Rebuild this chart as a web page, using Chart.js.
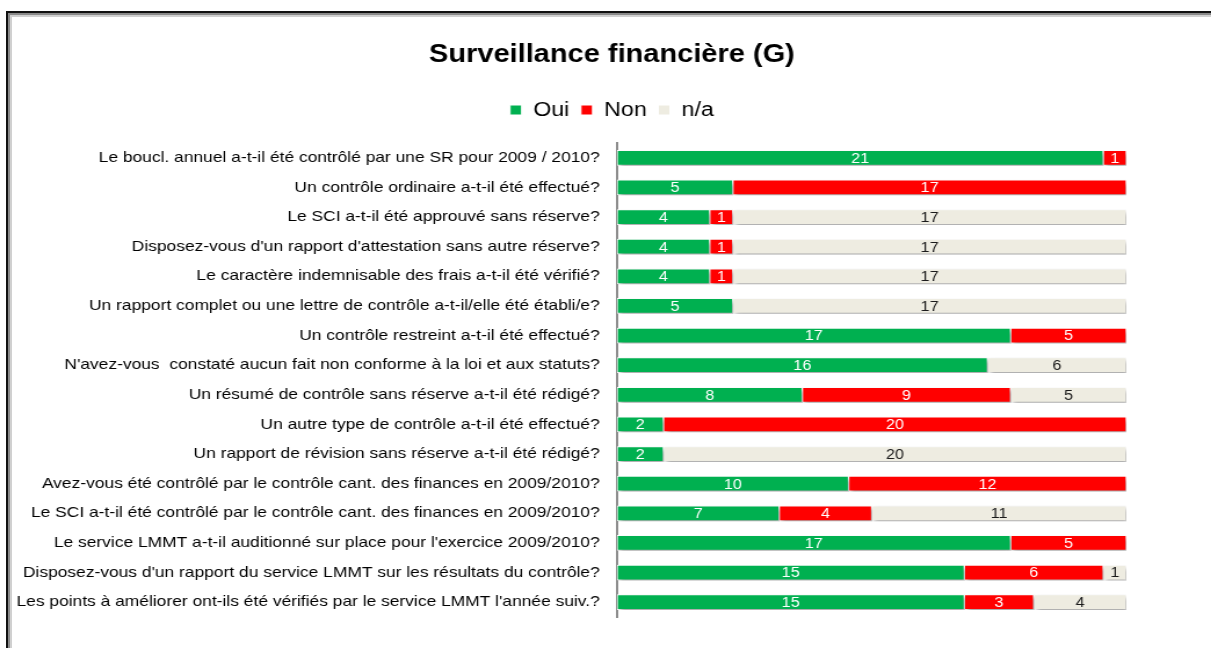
<!DOCTYPE html>
<html>
<head>
<meta charset="utf-8">
<script src="https://cdn.jsdelivr.net/npm/chart.js@4/dist/chart.umd.min.js"></script>
<style>
	html, body { margin: 0; padding: 0; background: #fff; }
	#zone { position: relative; width: 1211px; height: 648px; overflow: hidden; }
	#cadre {
		position: absolute; left: 6px; top: 11px; width: 1300px; height: 700px;
		border-left: 2px solid #111; border-top: 2px solid #111;
		box-shadow: inset 2px 2px 0 #8a8a8a, inset 4px 4px 0 #d0d0d0;
		pointer-events: none;
	}
	/* el original esta estirado a lo ancho */
	#grafico { position: absolute; left: 0; top: 0; transform: scaleX(1.16); transform-origin: 0 0; }
</style>
</head>
<body>
<div id="zone">
	<div id="cadre"></div>
	<canvas id="grafico" width="1044" height="648"></canvas>
</div>
<script>
const preguntas = [
	"Le boucl. annuel a-t-il été contrôlé par une SR pour 2009 / 2010?",
	"Un contrôle ordinaire a-t-il été effectué?",
	"Le SCI a-t-il été approuvé sans réserve?",
	"Disposez-vous d'un rapport d'attestation sans autre réserve?",
	"Le caractère indemnisable des frais a-t-il été vérifié?",
	"Un rapport complet ou une lettre de contrôle a-t-il/elle été établi/e?",
	"Un contrôle restreint a-t-il été effectué?",
	"N'avez-vous  constaté aucun fait non conforme à la loi et aux statuts?",
	"Un résumé de contrôle sans réserve a-t-il été rédigé?",
	"Un autre type de contrôle a-t-il été effectué?",
	"Un rapport de révision sans réserve a-t-il été rédigé?",
	"Avez-vous été contrôlé par le contrôle cant. des finances en 2009/2010?",
	"Le SCI a-t-il été contrôlé par le contrôle cant. des finances en 2009/2010?",
	"Le service LMMT a-t-il auditionné sur place pour l'exercice 2009/2010?",
	"Disposez-vous d'un rapport du service LMMT sur les résultats du contrôle?",
	"Les points à améliorer ont-ils été vérifiés par le service LMMT l'année suiv.?"
]
const oui = [21, 5, 4, 4, 4, 5, 17, 16, 8, 2, 2, 10, 7, 17, 15, 15]
const non = [1, 17, 1, 1, 1, 0, 5, 0, 9, 20, 0, 12, 4, 5, 6, 3]
const na  = [0, 0, 17, 17, 17, 17, 0, 6, 5, 0, 20, 0, 11, 0, 1, 4]

const colores = ["#00B050", "#FF0000", "#EEECE1"]
const colorTexto = ["#ffffff", "#ffffff", "#1a1a1a"]
const fuente = "'Liberation Sans', Arial, sans-serif"

// sombra bajo las barras y numeros dentro de cada tramo
const etiquetas = {
	id: "etiquetas",
	beforeDatasetsDraw(chart){
		const ctx = chart.ctx
		ctx.save()
		ctx.shadowColor = "rgba(0,0,0,0.35)"
		ctx.shadowBlur = 4
		ctx.shadowOffsetX = 2
		ctx.shadowOffsetY = 3
	},
	afterDatasetsDraw(chart){
		const ctx = chart.ctx
		ctx.restore()
		ctx.save()
		ctx.font = "14px " + fuente
		ctx.textAlign = "center"
		ctx.textBaseline = "middle"
		chart.data.datasets.forEach((ds, i) => {
			chart.getDatasetMeta(i).data.forEach((barra, j) => {
				const v = ds.data[j]
				if(!v) return
				ctx.fillStyle = colorTexto[i]
				ctx.fillText(v, (barra.x + barra.base) / 2, barra.y + 1)
			})
		})
		ctx.restore()
	}
}

// aire bajo la leyenda, y titulo/leyenda corridos a la derecha como en el original
const ajustes = {
	id: "ajustes",
	beforeInit(chart){
		const fit = chart.legend.fit
		chart.legend.fit = function(){
			fit.bind(chart.legend)()
			this.height += 13
		}
	},
	afterLayout(chart){
		chart.titleBlock.left += 84
		chart.legend.left += 84
	}
}

new Chart("grafico", {
	type: "bar",
	data: {
		labels: preguntas,
		datasets: [
			{label: "Oui", data: oui, backgroundColor: colores[0]},
			{label: "Non", data: non, backgroundColor: colores[1]},
			{label: "n/a", data: na, backgroundColor: colores[2]}
		]
	},
	options: {
		indexAxis: "y",
		responsive: false,
		animation: false,
		layout: {padding: {left: 0, right: 73, top: 0, bottom: 31}},
		datasets: {
			bar: {
				barThickness: 15,
				borderColor: "#ffffff",
				borderWidth: 1,
				borderSkipped: false
			}
		},
		scales: {
			x: {
				stacked: true, min: 0, max: 22, display: false
			},
			y: {
				stacked: true,
				afterFit(escala){ escala.width = 532 },
				grid: {display: false},
				border: {display: true, color: "#8c8c8c", width: 2},
				ticks: {
					color: "#000",
					padding: 7,
					font: {family: fuente, size: 15}
				}
			}
		},
		plugins: {
			title: {
				display: true,
				text: "Surveillance financière (G)",
				color: "#000",
				font: {family: fuente, size: 25, weight: "bold"},
				padding: {top: 40, bottom: 20}
			},
			legend: {
				labels: {
					color: "#000",
					boxWidth: 10,
					boxHeight: 10,
					padding: 10,
					font: {family: fuente, size: 20}
				}
			},
			tooltip: {enabled: false}
		}
	},
	plugins: [etiquetas, ajustes]
})
</script>
</body>
</html>
